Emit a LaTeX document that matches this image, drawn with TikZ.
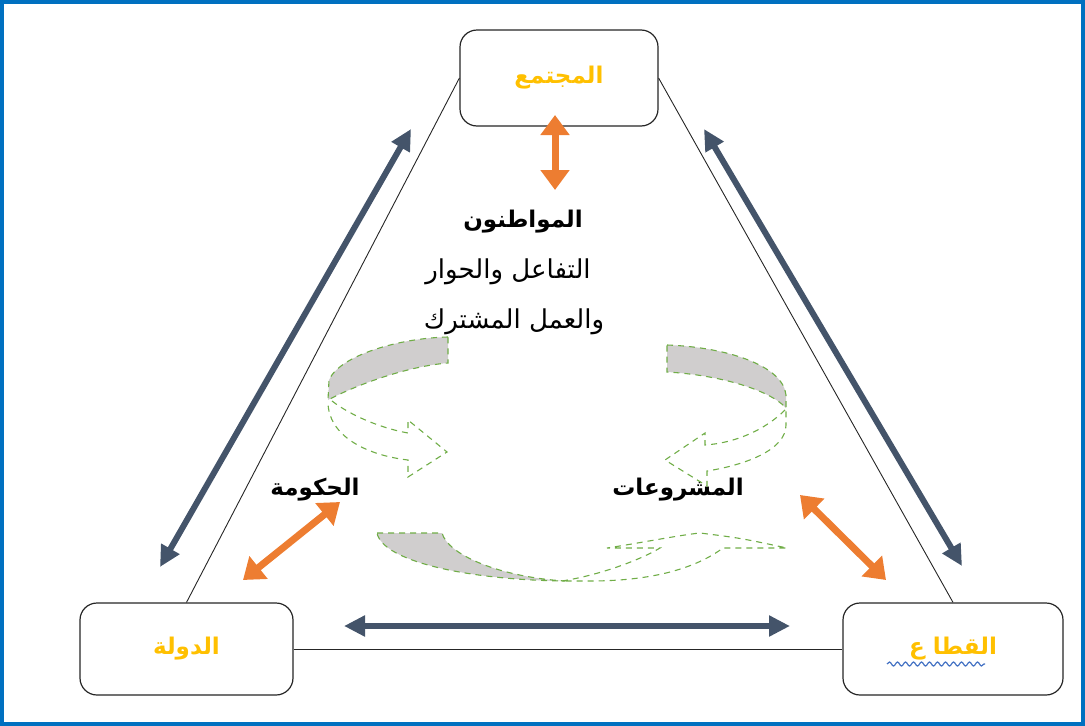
\documentclass[tikz,border=0pt]{standalone}
\usepackage{fontspec}
\usepackage{xcolor}
\usepackage{tikz}
\usetikzlibrary{positioning,arrows.meta,decorations.pathmorphing}
\TeXXeTstate=1
\newfontfamily\arabicfont[Script=Arabic]{DejaVu Sans}
\definecolor{framebl}{HTML}{0070C0}
\definecolor{slatedk}{HTML}{44546A}
\definecolor{orng}{HTML}{ED7D31}
\definecolor{gold}{HTML}{FFC000}
\definecolor{leaf}{HTML}{70AD47}
\definecolor{bandgrey}{HTML}{D0CECE}
\definecolor{spellbl}{HTML}{4472C4}
\newcommand{\ar}[1]{\beginR #1\endR}
\newcommand{\up}[1]{\raisebox{7pt}{#1}}
\tikzset{
  entity/.style={rectangle, rounded corners=17pt, draw=black!85, fill=white,
                 line width=1.2pt, font=\arabicfont\bfseries\fontsize{23}{27}\selectfont,
                 text=gold},
  side/.style={draw=black!85, line width=0.9pt},
  duallink/.style={{Triangle[length=21pt,width=20pt]}-{Triangle[length=21pt,width=20pt]},
                   line width=6pt, draw=slatedk},
  orglink/.style={{Triangle[length=20pt,width=28pt]}-{Triangle[length=20pt,width=28pt]},
                  line width=7pt, draw=orng},
  keyword/.style={font=\arabicfont\bfseries\fontsize{23}{27}\selectfont, inner sep=1pt},
  plainlbl/.style={font=\arabicfont\fontsize{26}{30}\selectfont, inner sep=1pt},
  greendash/.style={draw=leaf, line width=1.1pt, dash pattern=on 6pt off 5pt},
  band/.style={greendash, fill=bandgrey},
}
\begin{document}
\begin{tikzpicture}[x=1pt,y=-1pt]
  \useasboundingbox (0,0) rectangle (1085,726);
  \draw[framebl, line width=3.5pt] (2,2) rectangle (1083,724);

  % three parties
  \node[entity, minimum width=198, minimum height=96] (soc) at (559,78) {\up{\ar{المجتمع}}};
  \node[entity, minimum width=213, minimum height=92] (state) at (186.5,649) {\up{\ar{الدولة}}};
  \node[entity, minimum width=220, minimum height=92] (sector) at (953,649) {\up{\ar{القطا ع}}};
  \draw[spellbl, line width=1.2pt, decorate,
        decoration={snake, amplitude=2pt, segment length=8pt}]
       (887,664) -- (985,664);

  % triangle sides
  \draw[side] (soc.west) -- (state.north);
  \draw[side] (soc.east) -- (sector.north);
  \draw[side] (state.east) -- (sector.west);

  % labels
  \node[keyword] (cit) at (523,222) {\ar{المواطنون}};
  \node[plainlbl] (talk) at (508,272) {\ar{التفاعل والحوار}};
  \node[plainlbl] (joint) at (514,322) {\ar{والعمل المشترك}};
  \node[keyword] (gov) at (315,490) {\ar{الحكومة}};
  \node[keyword] (proj) at (678,490) {\ar{المشروعات}};

  % arrow ends
  \coordinate (lsA) at (160,567);  \coordinate (lsB) at (411,129);
  \coordinate (rsA) at (704,129);  \coordinate (rsB) at (962,566);
  \coordinate (bsA) at (344,626);  \coordinate (bsB) at (790,626);
  \coordinate (ctA) at (555,115);  \coordinate (ctB) at (555,190);
  \coordinate (gvA) at (243,580);  \coordinate (gvB) at (340,502);
  \coordinate (pjA) at (800,495);  \coordinate (pjB) at (886,580);

  \draw[duallink] (lsA) -- (lsB);
  \draw[duallink] (rsA) -- (rsB);
  \draw[duallink] (bsA) -- (bsB);
  \draw[orglink] (ctA) -- (ctB);
  \draw[orglink] (gvA) -- (gvB);
  \draw[orglink] (pjA) -- (pjB);

  % circular arrows
  \draw[band] (448,337) .. controls (400,338) and (340,355) .. (329,380)
     -- (328,400) .. controls (360,383) and (410,366) .. (448,363) -- cycle;
  \draw[greendash] (332,401) .. controls (350,415) and (380,428) .. (408,433)
     -- (408,420) -- (447,452) -- (408,477) -- (408,460)
     .. controls (365,455) and (328,435) .. (328,402);

  \draw[band] (667,345) .. controls (725,347) and (783,365) .. (786,395)
     -- (786,408) .. controls (770,390) and (720,375) .. (667,372) -- cycle;
  \draw[greendash] (785,410) .. controls (765,430) and (735,443) .. (705,445)
     -- (705,433) -- (665,460) -- (707,486) -- (707,471)
     .. controls (745,465) and (786,450) .. (786,425) -- (786,410);

  \draw[band] (377,533) -- (442,533) .. controls (448,555) and (500,577) .. (565,581)
     .. controls (470,580) and (383,562) .. (377,533) -- cycle;
  \draw[greendash] (562,581) .. controls (600,575) and (640,560) .. (660,548)
     -- (607,548) .. controls (640,543) and (680,535) .. (700,533)
     .. controls (740,538) .. (787,548) -- (723,548)
     .. controls (700,565) and (660,581) .. (590,581) -- (565,581);
\end{tikzpicture}
\end{document}
